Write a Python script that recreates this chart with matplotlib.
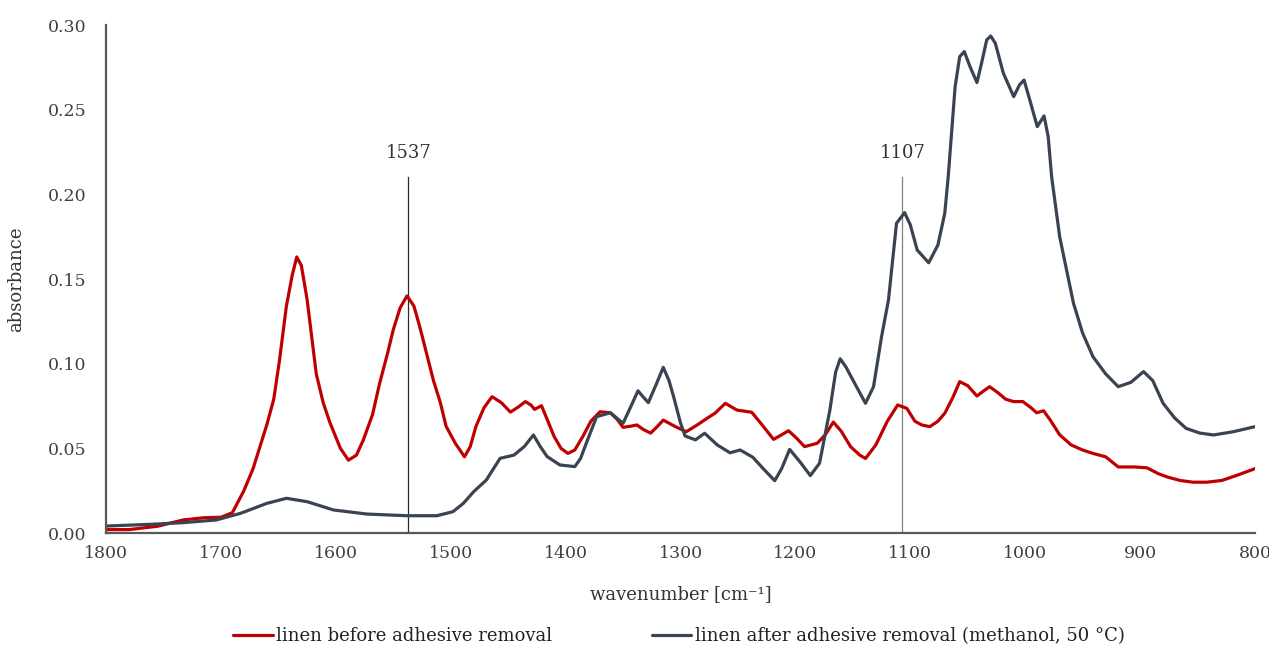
import matplotlib
matplotlib.use("Agg")
import matplotlib.pyplot as plt
from matplotlib.ticker import FormatStrFormatter

plt.rcParams['font.family'] = ['DejaVu Serif']

# --- data ---
wn_before = [1800, 1780, 1755, 1733, 1715, 1700, 1690, 1680, 1672, 1666, 1660, 1654, 1649, 1643,
             1638, 1634, 1630, 1625, 1617, 1611, 1605, 1596, 1589, 1582, 1576, 1568, 1562, 1555,
             1550, 1544, 1538, 1532, 1527, 1521, 1515, 1509, 1504, 1496, 1488, 1483, 1478, 1471,
             1464, 1456, 1448, 1441, 1435, 1430, 1427, 1421, 1416, 1410, 1404, 1398, 1392, 1385,
             1378, 1370, 1361, 1355, 1350, 1344, 1338, 1332, 1326, 1320, 1315, 1305, 1295, 1285,
             1277, 1270, 1261, 1251, 1238, 1228, 1219, 1212, 1206, 1199, 1192, 1181, 1174, 1167,
             1160, 1152, 1144, 1139, 1130, 1120, 1111, 1103, 1096, 1090, 1083, 1076, 1070, 1063,
             1057, 1050, 1042, 1036, 1031, 1024, 1017, 1010, 1002, 995, 990, 984, 978, 970, 960,
             950, 941, 930, 919, 905, 894, 884, 876, 865, 854, 842, 829, 816, 800]
abs_before = [0.002, 0.002, 0.004, 0.0077, 0.009, 0.0093, 0.012, 0.025, 0.038, 0.051, 0.064, 0.079,
              0.102, 0.134, 0.152, 0.163, 0.158, 0.138, 0.094, 0.077, 0.065, 0.050, 0.043, 0.046,
              0.055, 0.070, 0.088, 0.106, 0.120, 0.133, 0.140, 0.134, 0.122, 0.106, 0.090, 0.077,
              0.063, 0.053, 0.045, 0.051, 0.063, 0.074, 0.0805, 0.077, 0.0714, 0.0745, 0.0776,
              0.0755, 0.073, 0.0752, 0.067, 0.057, 0.050, 0.047, 0.049, 0.057, 0.066, 0.0716,
              0.071, 0.067, 0.0624, 0.063, 0.0638, 0.061, 0.059, 0.063, 0.0667, 0.063, 0.0598,
              0.064, 0.0677, 0.0707, 0.0766, 0.0726, 0.0713, 0.063, 0.0553, 0.058, 0.0604, 0.056,
              0.051, 0.053, 0.058, 0.0655, 0.060, 0.051, 0.046, 0.044, 0.052, 0.066, 0.0756,
              0.0736, 0.066, 0.0638, 0.0628, 0.066, 0.0707, 0.080, 0.0894, 0.087, 0.0809, 0.084,
              0.0864, 0.083, 0.079, 0.0776, 0.0776, 0.074, 0.071, 0.0722, 0.0665, 0.058, 0.052,
              0.049, 0.047, 0.045, 0.039, 0.039, 0.0385, 0.035, 0.033, 0.031, 0.030, 0.030, 0.031,
              0.034, 0.038]

wn_after = [1800, 1762, 1733, 1704, 1683, 1660, 1643, 1625, 1602, 1573, 1538, 1512, 1498, 1489,
            1480, 1469, 1457, 1445, 1436, 1428, 1422, 1416, 1405, 1392, 1387, 1382, 1373, 1361,
            1350, 1343, 1337, 1332, 1328, 1321, 1315, 1310, 1306, 1300, 1296, 1287, 1279, 1268,
            1257, 1248, 1237, 1228, 1218, 1212, 1205, 1196, 1187, 1179, 1170, 1165, 1161, 1156,
            1150, 1139, 1132, 1125, 1119, 1112, 1105, 1100, 1094, 1084, 1076, 1070, 1067, 1061,
            1057, 1053, 1048, 1042, 1038, 1033.5, 1030, 1026, 1019, 1010, 1005, 1001, 996, 989.5,
            983.6, 980, 977, 970, 958, 950, 941, 930, 919, 908, 897, 889, 880, 870, 860, 848,
            836, 819, 800]
abs_after = [0.0041, 0.0051, 0.0061, 0.0077, 0.0116, 0.0175, 0.0205, 0.0185, 0.0136, 0.0112, 0.0102,
             0.0102, 0.0126, 0.0175, 0.0244, 0.0313, 0.0441, 0.046, 0.051, 0.0579, 0.051, 0.0451,
             0.0402, 0.0392, 0.044, 0.053, 0.0687, 0.071, 0.0648, 0.075, 0.084, 0.080, 0.077,
             0.088, 0.0978, 0.090, 0.0805, 0.065, 0.0573, 0.055, 0.0589, 0.052, 0.0474, 0.049,
             0.0447, 0.038, 0.0309, 0.038, 0.0494, 0.042, 0.0339, 0.0412, 0.0726, 0.095, 0.1029,
             0.098, 0.0904, 0.0766, 0.0864, 0.116, 0.1376, 0.1829, 0.1892, 0.182, 0.1671, 0.1596,
             0.170, 0.1888, 0.2104, 0.2636, 0.2813, 0.2843, 0.2754, 0.266, 0.2774, 0.2912, 0.2935,
             0.2892, 0.2715, 0.2577, 0.2646, 0.2675, 0.2557, 0.24, 0.2463, 0.2341, 0.2104, 0.175,
             0.1357, 0.118, 0.1041, 0.094, 0.0864, 0.089, 0.0953, 0.090, 0.0766, 0.068, 0.0618,
             0.059, 0.0579, 0.0598, 0.0628]

marker_wn = [1537, 1107]
marker_labels = ["1537", "1107"]
marker_top = 0.21

series_labels = ["linen before adhesive removal",
                 "linen after adhesive removal (methanol, 50 °C)"]
x_ticks = [1800, 1700, 1600, 1500, 1400, 1300, 1200, 1100, 1000, 900, 800]
y_ticks = [0.00, 0.05, 0.10, 0.15, 0.20, 0.25, 0.30]

RED = "#C00000"
NAVY = "#3A4352"
TXT = "#404040"

fig = plt.figure(figsize=(12.69, 6.48), dpi=100)
ax = fig.add_axes([106 / 1269, 1 - 533 / 648, (1255 - 106) / 1269, (533 - 25) / 648])

l1, = ax.plot(wn_before, abs_before, color=RED, lw=2.3, solid_joinstyle='round',
              solid_capstyle='round', label=series_labels[0])
l2, = ax.plot(wn_after, abs_after, color=NAVY, lw=2.3, solid_joinstyle='round',
              solid_capstyle='round', label=series_labels[1])

for w, lab, c in zip(marker_wn, marker_labels, ["#2a2a2a", "#808080"]):
    ax.plot([w, w], [0, marker_top], color=c, lw=0.9, zorder=1)
    ax.text(w, marker_top + 0.009, lab, ha='center', va='bottom', fontsize=13, color="#333333")

ax.set_xlim(1800, 800)
ax.set_ylim(0, 0.30)
ax.set_xticks(x_ticks)
ax.set_yticks(y_ticks)
ax.yaxis.set_major_formatter(FormatStrFormatter('%.2f'))
ax.tick_params(axis='both', length=0, labelsize=12.5, colors=TXT)
ax.tick_params(axis='x', pad=9)
ax.tick_params(axis='y', pad=14)

for s in ['top', 'right']:
    ax.spines[s].set_visible(False)
for s in ['left', 'bottom']:
    ax.spines[s].set_color('#595959')
    ax.spines[s].set_linewidth(1.6)

ax.set_xlabel("wavenumber [cm⁻¹]", fontsize=13, color="#333333", labelpad=16)
ax.set_ylabel("absorbance", fontsize=13, color="#333333", labelpad=16)

fig.legend(handles=[l1, l2], labels=series_labels, loc='center', bbox_to_anchor=(0.535, 1 - 636 / 648),
           ncol=2, frameon=False, fontsize=13, handlelength=2.2, handletextpad=0.2,
           columnspacing=5.5, labelcolor="#222222")

fig.savefig("out.png", dpi=100)
